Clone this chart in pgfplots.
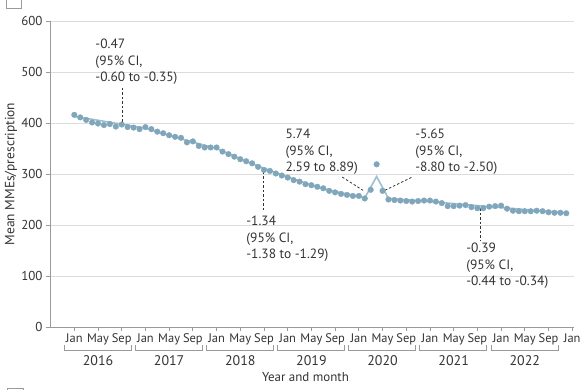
\documentclass[border=0pt]{standalone}
\usepackage{fontspec}
\setmainfont{PT Sans}
\usepackage{pgfplots}
\pgfplotsset{compat=1.18}
\definecolor{dot}{HTML}{7FA6BA}
\definecolor{fit}{HTML}{9DBFCE}
\definecolor{gridc}{HTML}{DCDCDC}
\definecolor{axisc}{HTML}{9A9A9A}
\definecolor{txt}{HTML}{333333}
\pgfplotstableread{
n v
0 416
1 411
2 406
3 401
4 399
5 396
6 398
7 393
8 397
9 392
10 391
11 388
12 392
13 388
14 383
15 380
16 376
17 373
18 371
19 362
20 364
21 355
22 352
23 352
24 352
25 344
26 339
27 334
28 329
29 325
30 321
31 314
32 308
33 306
34 301
35 297
36 293
37 288
38 285
39 280
40 278
41 275
42 272
43 267
44 264
45 261
46 259
47 257
48 257
49 252
50 269
51 319
52 267
53 250
54 249
55 248
56 247
57 246
58 247
59 248
60 248
61 246
62 243
63 237
64 237
65 238
66 239
67 235
68 233
69 233
70 236
71 237
72 238
73 232
74 228
75 227
76 227
77 227
78 228
79 227
80 225
81 224
82 224
83 223
}\obs
\pgfplotstableread{
n v
0 413
12 390
18 369
24 350
30 320
36 294
42 271
49 253
51 295
53 252
60 246
70 236
83 224
}\fitted
\newcommand{\yb}[4]{%
  \draw[axisc, line width=0.8bp] ([yshift=-18bp]axis cs:#1,0) -- ([yshift=-23bp]axis cs:#1,0) -- ([yshift=-23bp]axis cs:#2,0) -- ([yshift=-18bp]axis cs:#2,0);
  \node[text=txt, font=\fontsize{14}{16}\selectfont] at ([yshift=-34bp]axis cs:#3,0) {#4};
}
\begin{document}
\begin{tikzpicture}
\path[use as bounding box] (-50bp,-63bp) rectangle (535bp,327bp);
\draw[axisc, line width=0.8bp] (-44bp,319bp) rectangle (-29bp,333bp);
\draw[axisc, line width=0.8bp] (-43bp,-61bp) rectangle (-27bp,-72bp);
\begin{axis}[
  scale only axis, width=524bp, height=306bp,
  xmin=-4.1, xmax=84.3, ymin=0, ymax=600,
  axis x line*=bottom, axis y line*=left,
  axis line style={axisc, line width=0.9bp, -},
  ytick={0,100,...,600},
  ymajorgrids, grid style={gridc, line width=0.8bp},
  xtick={0,4,...,84},
  xticklabels={Jan,May,Sep,Jan,May,Sep,Jan,May,Sep,Jan,May,Sep,Jan,May,Sep,Jan,May,Sep,Jan,May,Sep,Jan},
  tick style={axisc, line width=0.8bp},
  major tick length=4bp, tick align=outside,
  /pgf/number format/assume math mode=true,
  xticklabel style={font=\fontsize{12.5}{14}\selectfont, text=txt, yshift=1bp},
  yticklabel style={font=\fontsize{13}{15}\selectfont, text=txt},
  clip=false,
]
\addplot[fit, line width=1.6bp, no markers] table[x=n, y=v] {\fitted};
\addplot[only marks, color=dot, mark=*, mark size=2.8bp, mark options={draw=dot, fill=dot}] table[x=n, y=v] {\obs};

\draw[txt, line width=0.8bp, dash pattern=on 2.5bp off 2bp] (axis cs:8.1,469) -- (axis cs:8.1,400);
\draw[txt, line width=0.8bp, dash pattern=on 2.5bp off 2bp] (axis cs:31.9,304) -- (axis cs:31.9,225);
\draw[txt, line width=0.8bp, dash pattern=on 2.5bp off 2bp] (axis cs:45.2,294) -- (axis cs:48.7,268);
\draw[txt, line width=0.8bp, dash pattern=on 2.5bp off 2bp] (axis cs:52.4,268) -- (axis cs:57.0,294);
\draw[txt, line width=0.8bp, dash pattern=on 2.5bp off 2bp] (axis cs:68.5,233) -- (axis cs:68.5,170);

\node[anchor=north west, inner sep=0pt, align=left, text=txt, font=\fontsize{13.5}{16.5}\selectfont] at (axis cs:3.54,565) {-0.47\\(95\% CI,\\-0.60 to -0.35)};
\node[anchor=north west, inner sep=0pt, align=left, text=txt, font=\fontsize{13.5}{16.5}\selectfont] at (axis cs:29.0,218) {-1.34\\(95\% CI,\\-1.38 to -1.29)};
\node[anchor=north west, inner sep=0pt, align=left, text=txt, font=\fontsize{13.5}{16.5}\selectfont] at (axis cs:35.6,388) {5.74\\(95\% CI,\\2.59 to 8.89)};
\node[anchor=north west, inner sep=0pt, align=left, text=txt, font=\fontsize{13.5}{16.5}\selectfont] at (axis cs:57.5,388) {-5.65\\(95\% CI,\\-8.80 to -2.50)};
\node[anchor=north west, inner sep=0pt, align=left, text=txt, font=\fontsize{13.5}{16.5}\selectfont] at (axis cs:66.1,165) {-0.39\\(95\% CI,\\-0.44 to -0.34)};

\yb{-1.7}{9.6}{4}{2016}
\yb{10.3}{21.6}{16}{2017}
\yb{22.3}{33.6}{28}{2018}
\yb{34.3}{45.6}{40}{2019}
\yb{46.3}{57.6}{52}{2020}
\yb{58.3}{69.6}{64}{2021}
\yb{70.3}{81.6}{76}{2022}
\node[text=txt, font=\fontsize{13}{15}\selectfont] at ([yshift=-50bp]axis cs:39,0) {Year and month};
\node[text=txt, rotate=90, font=\fontsize{13.5}{15}\selectfont] at ([xshift=-39bp]axis cs:-4.1,300) {Mean MMEs/prescription};
\end{axis}
\end{tikzpicture}
\end{document}
